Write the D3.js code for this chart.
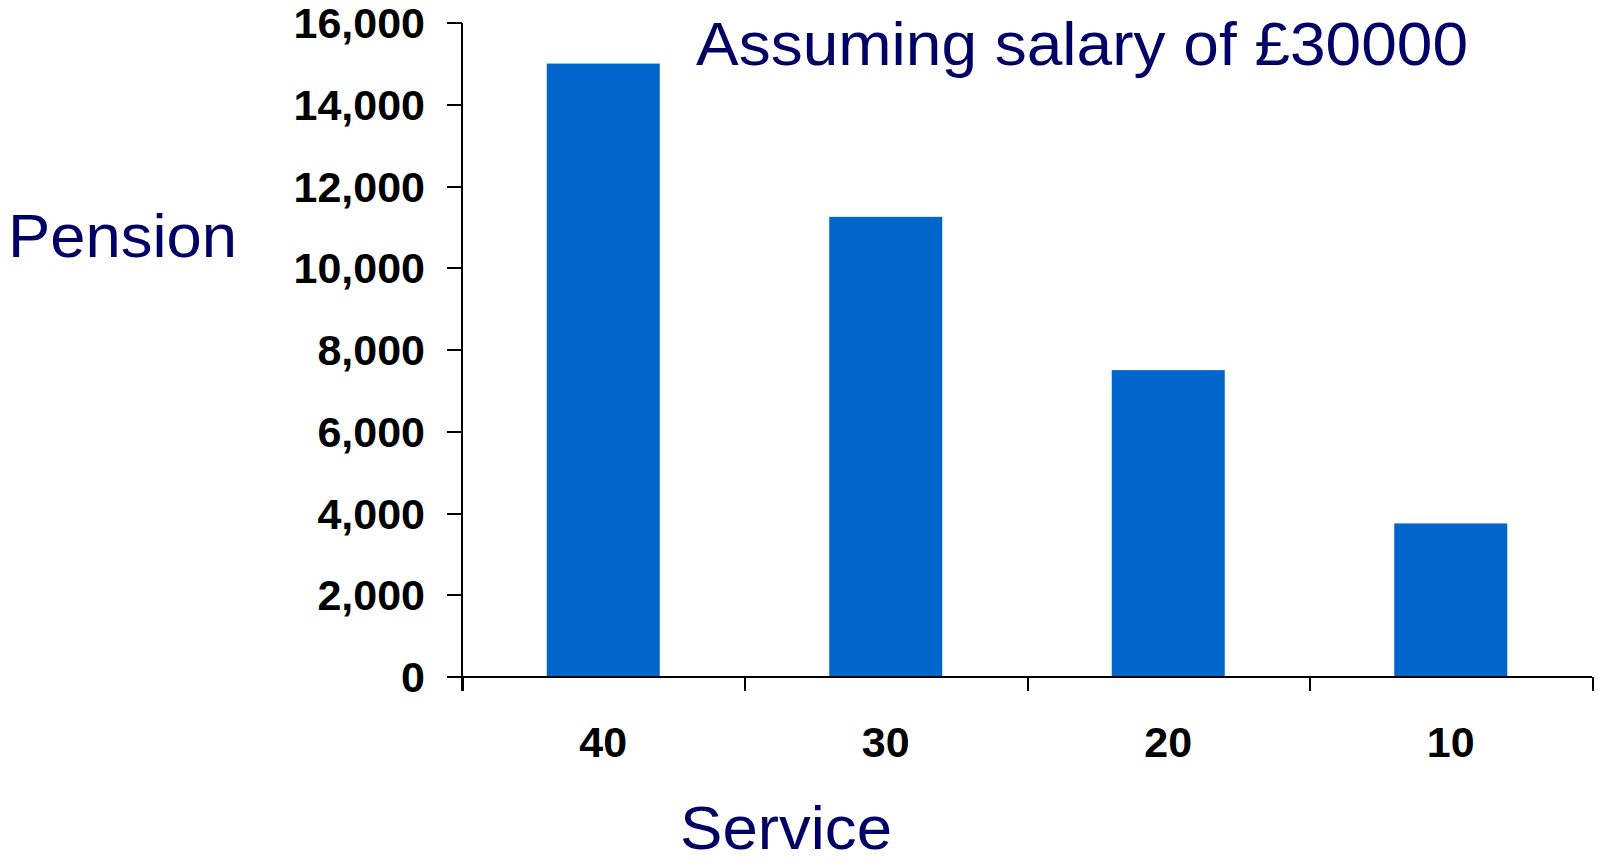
<!DOCTYPE html>
<html>
<head>
<meta charset="utf-8">
<script src="https://cdn.jsdelivr.net/npm/d3@7"></script>
<style>
  html, body { margin: 0; padding: 0; background: #fff; }
  svg { display: block; }
  .axis path, .axis line { stroke: #000; stroke-width: 2px; shape-rendering: crispEdges; }
  .tick-label { font-family: "Liberation Sans", Arial, sans-serif; font-weight: bold; font-size: 43px; fill: #000; }
  .navy { font-family: "Liberation Sans", Arial, sans-serif; fill: #000066; }
</style>
</head>
<body>
<svg id="chart" width="1599" height="860"></svg>
<script>
// Years of service and the resulting annual pension (1/80th per year on £30,000)
const serviceYears = ["40", "30", "20", "10"];
const pensionValues = [15000, 11250, 7500, 3750];
const yTickValues = [0, 2000, 4000, 6000, 8000, 10000, 12000, 14000, 16000];
const titleText = "Assuming salary of £30000";
const yLabel = "Pension";
const xLabel = "Service";

const svg = d3.select("#chart");
const plot = { left: 462, right: 1592, top: 22.7, bottom: 676.7 };

const x = d3.scaleBand()
  .domain(serviceYears)
  .range([plot.left, plot.right])
  .paddingInner(0.6)
  .paddingOuter(0.3);

const y = d3.scaleLinear()
  .domain([0, 16000])
  .range([plot.bottom, plot.top]);

// Bars
svg.append("g")
  .selectAll("rect")
  .data(serviceYears.map((s, i) => ({ s, v: pensionValues[i] })))
  .join("rect")
  .attr("x", d => x(d.s))
  .attr("y", d => y(d.v))
  .attr("width", x.bandwidth())
  .attr("height", d => y(0) - y(d.v))
  .attr("fill", "#0066CC");

// Y axis
const yAxis = svg.append("g")
  .attr("class", "axis")
  .attr("transform", `translate(${plot.left},0)`)
  .call(d3.axisLeft(y).tickValues(yTickValues).tickSize(15).tickSizeOuter(0).tickFormat(""));
yAxis.select(".domain").remove();
yAxis.append("line")
  .attr("x1", 0).attr("x2", 0)
  .attr("y1", plot.top).attr("y2", plot.bottom + 14);

svg.append("g")
  .selectAll("text")
  .data(yTickValues)
  .join("text")
  .attr("class", "tick-label")
  .attr("x", 425)
  .attr("y", d => y(d))
  .attr("dy", "0.36em")
  .attr("text-anchor", "end")
  .text(d => d3.format(",")(d));

// X axis: ticks fall between categories
const xEdges = d3.scaleLinear().domain([0, serviceYears.length]).range([plot.left, plot.right]);
const xAxis = svg.append("g")
  .attr("class", "axis")
  .attr("transform", `translate(0,${plot.bottom})`)
  .call(d3.axisBottom(xEdges).ticks(serviceYears.length).tickSize(14).tickSizeOuter(0).tickFormat(""));
xAxis.select(".domain").remove();
xAxis.append("line")
  .attr("x1", plot.left - 15).attr("x2", plot.right)
  .attr("y1", 0).attr("y2", 0);

svg.append("g")
  .selectAll("text")
  .data(serviceYears)
  .join("text")
  .attr("class", "tick-label")
  .attr("x", d => x(d) + x.bandwidth() / 2)
  .attr("y", 757)
  .attr("text-anchor", "middle")
  .text(d => d);

// Titles
svg.append("text")
  .attr("class", "navy")
  .attr("x", 696)
  .attr("y", 65)
  .attr("font-size", 61)
  .attr("textLength", 772)
  .attr("lengthAdjust", "spacingAndGlyphs")
  .text(titleText);

svg.append("text")
  .attr("class", "navy")
  .attr("x", 8)
  .attr("y", 257)
  .attr("font-size", 61)
  .attr("textLength", 229)
  .attr("lengthAdjust", "spacingAndGlyphs")
  .text(yLabel);

svg.append("text")
  .attr("class", "navy")
  .attr("x", 680)
  .attr("y", 849)
  .attr("font-size", 62)
  .attr("textLength", 212)
  .attr("lengthAdjust", "spacingAndGlyphs")
  .text(xLabel);
</script>
</body>
</html>
